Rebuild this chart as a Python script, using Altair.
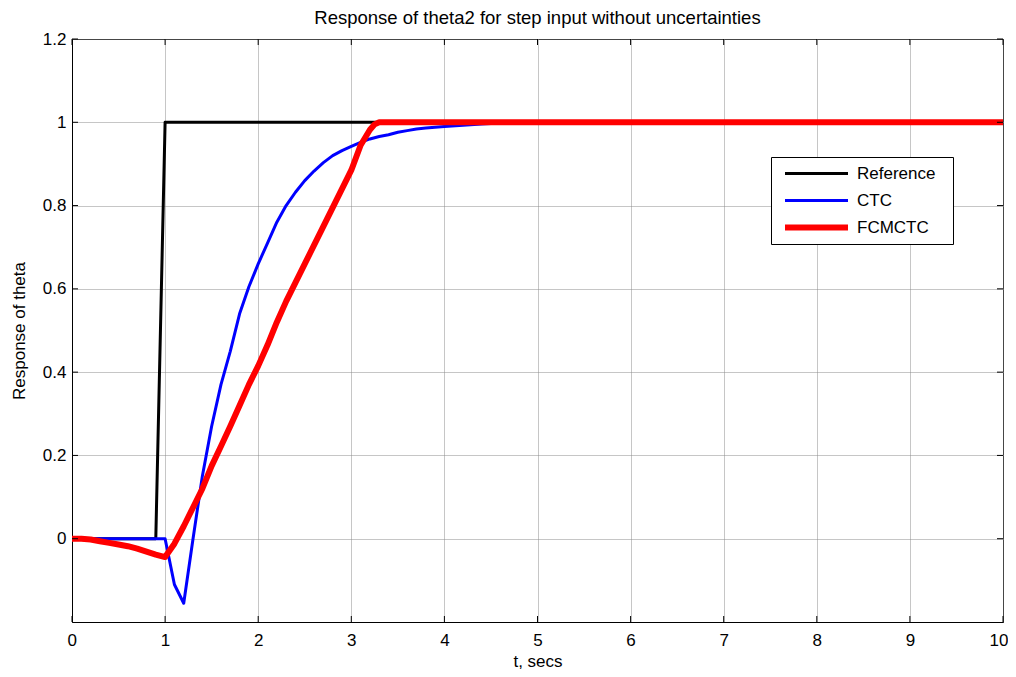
import altair as alt
import pandas as pd

# ---- data ----
ref_t = [0, 0.9, 1.0, 10]
ref_y = [0, 0, 1, 1]

ctc_t = [0, 1.0, 1.1, 1.2, 1.3, 1.4, 1.5, 1.6, 1.7, 1.8, 1.9, 2.0, 2.1, 2.2, 2.3,
         2.4, 2.5, 2.6, 2.7, 2.8, 2.9, 3.0, 3.1, 3.2, 3.3, 3.4, 3.5, 3.6, 3.7,
         3.8, 3.9, 4.0, 4.2, 4.4, 4.6, 5.0, 10]
ctc_y = [0, 0, -0.11, -0.155, 0.0, 0.15, 0.27, 0.37, 0.45, 0.54, 0.605, 0.66,
         0.71, 0.76, 0.80, 0.832, 0.86, 0.883, 0.903, 0.92, 0.932, 0.942, 0.952,
         0.96, 0.966, 0.97, 0.976, 0.98, 0.984, 0.986, 0.988, 0.99, 0.993,
         0.996, 0.998, 1.0, 1.0]

fcm_t = [0, 0.1, 0.2, 0.3, 0.4, 0.5, 0.6, 0.7, 0.8, 0.9, 1.0, 1.1, 1.2, 1.3,
         1.4, 1.5, 1.6, 1.7, 1.8, 1.9, 2.0, 2.1, 2.2, 2.3, 2.4, 2.5, 2.6, 2.7,
         2.8, 2.9, 3.0, 3.1, 3.2, 3.25, 3.3, 10]
fcm_y = [0, 0, -0.002, -0.006, -0.01, -0.014, -0.018, -0.024, -0.031, -0.038,
         -0.044, -0.012, 0.03, 0.075, 0.12, 0.175, 0.222, 0.27, 0.32, 0.37,
         0.415, 0.465, 0.52, 0.57, 0.615, 0.66, 0.705, 0.75, 0.795, 0.84, 0.885,
         0.945, 0.982, 0.995, 1.0, 1.0]

series_names = ["Reference", "CTC", "FCMCTC"]
series_colors = ["#000000", "#0000ff", "#ff0000"]
series_widths = [3, 3, 6]

x_ticks = [0, 1, 2, 3, 4, 5, 6, 7, 8, 9, 10]
y_ticks = [0, 0.2, 0.4, 0.6, 0.8, 1.0, 1.2]

title_text = "Response of theta2 for step input without uncertainties"
x_title = "t, secs"
y_title = "Response of theta"

# ---- build table ----
rows = []
for name, ts, ys in [("Reference", ref_t, ref_y), ("CTC", ctc_t, ctc_y), ("FCMCTC", fcm_t, fcm_y)]:
    for i, (t, v) in enumerate(zip(ts, ys)):
        rows.append({"t": t, "v": v, "series": name, "i": i})
df = pd.DataFrame(rows)

W, H = 931, 583
FONT = "Liberation Sans"

xscale = alt.Scale(domain=[0, 10], nice=False, zero=False)
yscale = alt.Scale(domain=[-0.2, 1.2], nice=False, zero=False)

legend_common = dict(
    title=".", titleOrient="right", titleOpacity=0, titleFontSize=10,
    titlePadding=12,
    orient="none", legendX=699, legendY=118,
    symbolType="stroke", symbolSize=3969,
    clipHeight=27, rowPadding=0, padding=3, symbolOffset=8, labelOffset=6,
    labelFontSize=17, labelFont=FONT, labelColor="black",
    fillColor="white", strokeColor="black",
)

color_enc = alt.Color(
    "series:N",
    scale=alt.Scale(domain=series_names, range=series_colors),
    legend=alt.Legend(**legend_common),
)
sw_enc = alt.StrokeWidth(
    "series:N",
    scale=alt.Scale(type="ordinal", domain=series_names, range=series_widths),
    legend=alt.Legend(**legend_common),
)

x_enc = alt.X("t:Q", scale=xscale, title=x_title,
              axis=alt.Axis(values=x_ticks, format="d", grid=True, ticks=False,
                            labelFlush=True, labelFlushOffset=5,
                            labelPadding=10, titlePadding=5))
y_enc = alt.Y("v:Q", scale=yscale, title=y_title,
              axis=alt.Axis(values=y_ticks, format="~g", grid=True, ticks=False,
                            labelFlush=False, labelPadding=6, titlePadding=14))

layers = []
for name in series_names:
    layers.append(
        alt.Chart(df).transform_filter(alt.datum.series == name)
        .mark_line(strokeCap="butt", strokeJoin="round")
        .encode(x=x_enc, y=y_enc, color=color_enc, strokeWidth=sw_enc, order="i:Q")
    )

xt = pd.DataFrame({"t": x_ticks})
yt = pd.DataFrame({"v": y_ticks})
tick_x_bottom = alt.Chart(xt).mark_rule(color="black", strokeWidth=1).encode(
    x=alt.X("t:Q", scale=xscale), y=alt.value(H), y2=alt.value(H - 6))
tick_x_top = alt.Chart(xt).mark_rule(color="black", strokeWidth=1).encode(
    x=alt.X("t:Q", scale=xscale), y=alt.value(0), y2=alt.value(6))
tick_y_left = alt.Chart(yt).mark_rule(color="black", strokeWidth=1).encode(
    y=alt.Y("v:Q", scale=yscale), x=alt.value(0), x2=alt.value(6))
tick_y_right = alt.Chart(yt).mark_rule(color="black", strokeWidth=1).encode(
    y=alt.Y("v:Q", scale=yscale), x=alt.value(W - 6), x2=alt.value(W))

chart = alt.layer(*layers, tick_x_bottom, tick_x_top, tick_y_left, tick_y_right).properties(
    width=W, height=H,
    title=alt.TitleParams(title_text, fontSize=18.5, font=FONT, fontWeight="normal",
                          color="black", offset=3, anchor="middle"),
    autosize=alt.AutoSizeParams(type="none"),
    padding={"left": 64, "top": 31, "right": 5, "bottom": 48},
    background="white",
).configure_view(stroke="black", strokeWidth=1).configure_axis(
    labelFont=FONT, titleFont=FONT, labelFontSize=17, titleFontSize=17,
    titleFontWeight="normal", labelColor="black", titleColor="black",
    domainColor="black", domainWidth=1, gridColor="#8c8c8c", gridDash=[1, 1],
    gridWidth=1, gridOpacity=1,
)

chart.save("out.html", embed_options={"renderer": "svg", "actions": False})
